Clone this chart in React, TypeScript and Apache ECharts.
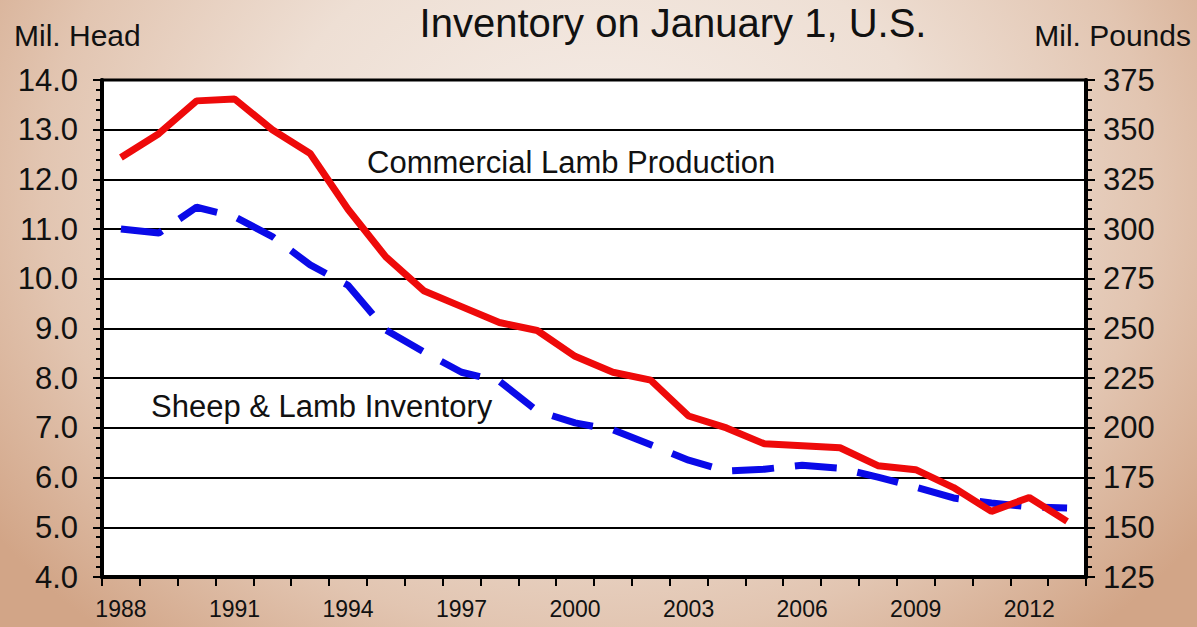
import React, { useEffect, useRef } from "react";
import * as echarts from "echarts";

const years = [
  "1988", "1989", "1990", "1991", "1992", "1993", "1994", "1995", "1996", "1997",
  "1998", "1999", "2000", "2001", "2002", "2003", "2004", "2005", "2006", "2007",
  "2008", "2009", "2010", "2011", "2012", "2013",
];

// Sheep & Lamb Inventory, million head (left axis)
const sheepInventory = [
  11.0, 10.92, 11.44, 11.25, 10.85, 10.28, 9.87, 8.97, 8.53, 8.12,
  7.94, 7.34, 7.1, 6.96, 6.66, 6.35, 6.13, 6.17, 6.25, 6.19,
  6.01, 5.81, 5.59, 5.49, 5.41, 5.39,
];

// Commercial Lamb Production, million pounds (right axis)
const lambProduction = [
  336, 348, 364.5, 365.5, 350, 338, 310, 286, 269, 261,
  253, 249, 236, 228, 224, 206, 200, 192, 191, 190,
  181, 179, 170, 158, 165, 153,
];

const FONT = "'Liberation Sans', Arial, sans-serif";

export default function App() {
  const ref = useRef<HTMLDivElement>(null);

  useEffect(() => {
    if (!ref.current) return;
    const chart = echarts.init(ref.current, null, { renderer: "svg" });
    chart.setOption({
      animation: false,
      backgroundColor: "transparent",
      textStyle: { fontFamily: FONT },
      grid: {
        left: 102,
        right: 111,
        top: 80,
        bottom: 50,
        show: true,
        backgroundColor: "#ffffff",
        borderColor: "#000000",
        borderWidth: 3,
      },
      graphic: [
        {
          type: "text",
          x: 673,
          y: 23,
          style: {
            text: "Inventory on January 1, U.S.",
            fontSize: 40,
            fontFamily: FONT,
            fill: "#111",
            textAlign: "center",
            textVerticalAlign: "middle",
          },
        },
        {
          type: "text",
          x: 14,
          y: 35,
          style: {
            text: "Mil. Head",
            fontSize: 30,
            fontFamily: FONT,
            fill: "#111",
            textAlign: "left",
            textVerticalAlign: "middle",
          },
        },
        {
          type: "text",
          x: 1191,
          y: 35,
          style: {
            text: "Mil. Pounds",
            fontSize: 30,
            fontFamily: FONT,
            fill: "#111",
            textAlign: "right",
            textVerticalAlign: "middle",
          },
        },
        {
          type: "text",
          x: 367,
          y: 162,
          z: 10,
          style: {
            text: "Commercial Lamb Production",
            fontSize: 31,
            fontFamily: FONT,
            fill: "#111",
            textAlign: "left",
            textVerticalAlign: "middle",
          },
        },
        {
          type: "text",
          x: 151,
          y: 406,
          z: 10,
          style: {
            text: "Sheep & Lamb Inventory",
            fontSize: 31,
            fontFamily: FONT,
            fill: "#111",
            textAlign: "left",
            textVerticalAlign: "middle",
          },
        },
      ],
      xAxis: {
        type: "category",
        data: years,
        boundaryGap: true,
        axisLine: { show: true, lineStyle: { color: "#000", width: 4 } },
        axisTick: {
          show: true,
          interval: 0,
          length: 9,
          lineStyle: { color: "#000", width: 2 },
        },
        axisLabel: {
          interval: 2,
          margin: 20,
          fontSize: 23,
          color: "#111",
          fontFamily: FONT,
        },
        splitLine: { show: false },
      },
      yAxis: [
        {
          type: "value",
          min: 4,
          max: 14,
          interval: 1,
          position: "left",
          axisLine: { show: true, lineStyle: { color: "#000", width: 4 } },
          axisTick: { show: true, length: 9, lineStyle: { color: "#000", width: 2 } },
          minorTick: { show: true, splitNumber: 5, length: 6, lineStyle: { color: "#000", width: 2 } },
          axisLabel: {
            margin: 24,
            fontSize: 31,
            color: "#111",
            fontFamily: FONT,
            formatter: (v: number) => v.toFixed(1),
          },
          splitLine: { show: true, lineStyle: { color: "#000", width: 2 } },
        },
        {
          type: "value",
          min: 125,
          max: 375,
          interval: 25,
          position: "right",
          axisLine: { show: true, lineStyle: { color: "#000", width: 4 } },
          axisTick: { show: true, length: 9, lineStyle: { color: "#000", width: 2 } },
          minorTick: { show: true, splitNumber: 5, length: 6, lineStyle: { color: "#000", width: 2 } },
          axisLabel: {
            margin: 17,
            fontSize: 31,
            color: "#111",
            fontFamily: FONT,
          },
          splitLine: { show: false },
        },
      ],
      series: [
        {
          name: "Sheep & Lamb Inventory",
          type: "line",
          yAxisIndex: 0,
          data: sheepInventory,
          showSymbol: false,
          symbol: "none",
          z: 3,
          lineStyle: { color: "#0a0ae8", width: 7, type: [42, 21], cap: "butt" },
        },
        {
          name: "Commercial Lamb Production",
          type: "line",
          yAxisIndex: 1,
          data: lambProduction,
          showSymbol: false,
          symbol: "none",
          z: 4,
          lineStyle: { color: "#ee0a0a", width: 7 },
        },
      ],
    });
    return () => chart.dispose();
  }, []);

  return (
    <div
      style={{
        position: "absolute",
        left: 0,
        top: 0,
        width: 1197,
        height: 627,
        background:
          "radial-gradient(ellipse 62% 95% at 50% 30%, #f6eee9 0%, #eedfd4 45%, #e2c5b1 75%, #d2a587 100%)",
      }}
    >
      <div ref={ref} style={{ width: 1197, height: 627 }} />
    </div>
  );
}
